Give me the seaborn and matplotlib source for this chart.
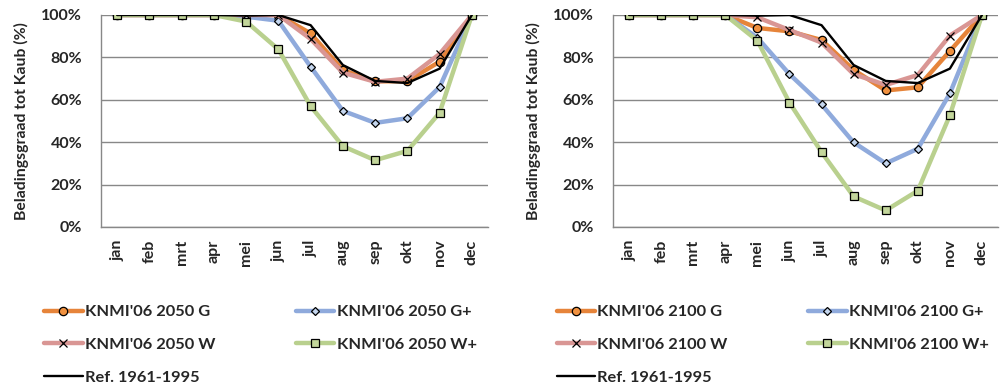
import numpy as np
import pandas as pd
import matplotlib
matplotlib.use("Agg")
import matplotlib.pyplot as plt
from matplotlib import font_manager as fm
from matplotlib.lines import Line2D
from matplotlib.ticker import PercentFormatter
import seaborn as sns

months = ["jan", "feb", "mrt", "apr", "mei", "jun", "jul", "aug", "sep", "okt", "nov", "dec"]

# Beladingsgraad tot Kaub (%) per maand, zichtjaar 2050
g_2050 = [100, 100, 100, 100, 100, 100, 91.3, 74.0, 68.7, 68.8, 78.0, 100]
gplus_2050 = [100, 100, 100, 100, 99.2, 97.3, 75.6, 54.8, 49.1, 51.3, 66.0, 100]
w_2050 = [100, 100, 100, 100, 100, 100, 88.7, 72.8, 68.5, 70.0, 81.6, 100]
wplus_2050 = [100, 100, 100, 100, 96.9, 83.8, 57.0, 38.1, 31.5, 35.9, 53.9, 100]

# zichtjaar 2100
g_2100 = [100, 100, 100, 100, 93.9, 92.3, 88.2, 74.1, 64.4, 65.9, 83.0, 100]
gplus_2100 = [100, 100, 100, 100, 89.3, 72.1, 57.8, 39.9, 30.0, 36.9, 63.0, 100]
w_2100 = [100, 100, 100, 100, 98.9, 92.9, 87.0, 72.1, 67.0, 71.7, 90.3, 100]
wplus_2100 = [100, 100, 100, 100, 87.9, 58.7, 35.3, 14.4, 7.8, 17.1, 52.7, 100]

# referentieperiode
ref_1961_1995 = [100, 100, 100, 100, 99.7, 100, 95.2, 76.4, 68.9, 67.9, 74.7, 100]

sns.set_style("white")


def pick_bold_family(candidates):
    for fam in candidates:
        try:
            path = fm.findfont(fm.FontProperties(family=fam, weight="bold"),
                               fallback_to_default=False)
        except Exception:
            continue
        if "bold" in path.lower() or "black" in path.lower():
            return fam
    return "DejaVu Sans"


FAMILY = pick_bold_family(["Lato", "Open Sans", "Noto Sans", "Roboto", "Liberation Sans"])
plt.rcParams["font.family"] = [FAMILY, "DejaVu Sans"]
plt.rcParams["font.weight"] = "bold"

GRID = "#888888"
TICK_FS = 11.5
styles = {
    "G": dict(color="#E6843A", marker="o", mfc="#F0913F", ms=6.0),
    "G+": dict(color="#8FAADC", marker="D", mfc="#C5D6EE", ms=4.2),
    "W": dict(color="#D99694", marker="x", mfc="none", ms=5.5),
    "W+": dict(color="#B9D08E", marker="s", mfc="#C3D69B", ms=6.0),
}

fig = plt.figure(figsize=(10.02, 3.87), dpi=100)
ax1 = fig.add_axes([101 / 1002, 160 / 387, 387 / 1002, 212 / 387])
ax2 = fig.add_axes([613 / 1002, 160 / 387, 385 / 1002, 212 / 387])


def draw(ax, year, series):
    handles = {}
    for key, vals in series:
        st = styles[key]
        df = pd.DataFrame({"maand": months, "waarde": vals})
        sns.lineplot(data=df, x="maand", y="waarde", ax=ax, sort=False,
                     color=st["color"], lw=3.2, marker=st["marker"],
                     markersize=st["ms"], markerfacecolor=st["mfc"],
                     markeredgecolor="black", markeredgewidth=0.9,
                     zorder=3)
        handles[key] = Line2D([], [], color=st["color"], lw=3.2, marker=st["marker"],
                              markersize=st["ms"], markerfacecolor=st["mfc"],
                              markeredgecolor="black", markeredgewidth=0.9,
                              label=f"KNMI'06 {year} {key}")
    df = pd.DataFrame({"maand": months, "waarde": ref_1961_1995})
    sns.lineplot(data=df, x="maand", y="waarde", ax=ax, sort=False,
                 color="black", lw=1.7, zorder=4)
    handles["ref"] = Line2D([], [], color="black", lw=1.7, label="Ref. 1961-1995")

    ax.set_xlim(-0.5, 11.5)
    ax.set_ylim(0, 100)
    ax.set_yticks(np.arange(0, 101, 20))
    ax.yaxis.set_major_formatter(PercentFormatter(decimals=0))
    ax.set_xticks(np.arange(12))
    ax.set_xticklabels(months, rotation=90, fontsize=TICK_FS, fontweight="bold")
    ax.set_xticks(np.arange(-0.5, 12, 1), minor=True)
    ax.tick_params(axis="x", which="major", length=0, pad=9)
    ax.tick_params(axis="x", which="minor", length=5, color=GRID, width=1)
    ax.tick_params(axis="y", length=5, color=GRID, width=1, labelsize=TICK_FS, pad=8.5)
    for lab in ax.get_yticklabels():
        lab.set_fontweight("bold")
    ax.grid(axis="y", color=GRID, lw=1)
    ax.set_axisbelow(True)
    for s in ("top", "right"):
        ax.spines[s].set_visible(False)
    for s in ("left", "bottom"):
        ax.spines[s].set_color(GRID)
        ax.spines[s].set_linewidth(1)
    ax.set_xlabel("")
    ax.set_ylabel("Beladingsgraad tot Kaub (%)", fontsize=11.3, fontweight="bold", labelpad=9)

    order = [handles["G"], handles["W"], handles["ref"], handles["G+"], handles["W+"]]
    ax.legend(handles=order, loc="upper left", bbox_to_anchor=(-0.185, -0.298),
              ncol=2, frameon=False, handlelength=2.35,
              handletextpad=0.15, columnspacing=4.9, labelspacing=1.12,
              prop=dict(weight="bold", size=11.8))


draw(ax1, "2050", [("G", g_2050), ("G+", gplus_2050), ("W", w_2050), ("W+", wplus_2050)])
draw(ax2, "2100", [("G", g_2100), ("G+", gplus_2100), ("W", w_2100), ("W+", wplus_2100)])

fig.savefig("out.png", dpi=100)
